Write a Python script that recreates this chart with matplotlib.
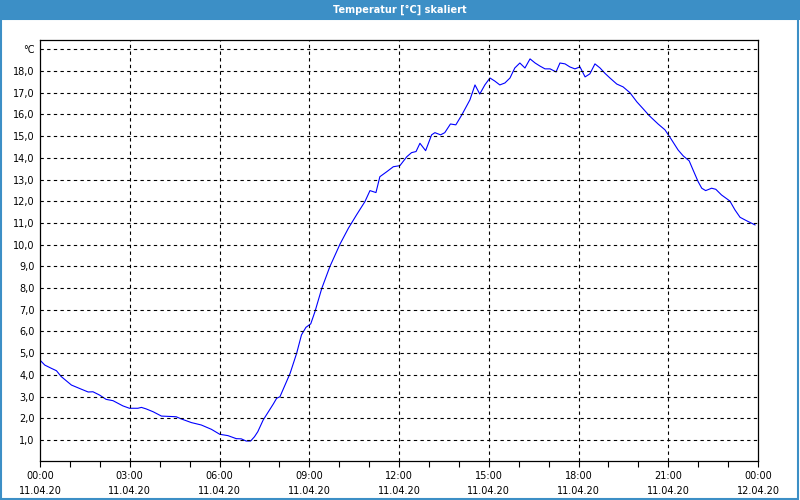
import matplotlib
matplotlib.use("Agg")
import matplotlib.pyplot as plt
from matplotlib.patches import Rectangle

# Temperature readings, hours since 11.04.20 00:00
hours = [0.02, 0.16, 0.38, 0.55, 0.71, 1.05, 1.38, 1.61, 1.77, 1.99, 2.21, 2.44,
         2.77, 2.99, 3.27, 3.39, 3.55, 3.78, 4.06, 4.55, 4.72, 5.06, 5.39, 5.73,
         6.01, 6.28, 6.56, 6.73, 6.89, 7.04, 7.17, 7.28, 7.46, 7.80, 7.91, 8.02,
         8.36, 8.58, 8.74, 8.89, 9.05, 9.19, 9.42, 9.69, 10.03, 10.31, 10.58,
         10.86, 11.03, 11.23, 11.36, 11.59, 11.81, 12.03, 12.26, 12.42, 12.57,
         12.70, 12.89, 13.09, 13.20, 13.39, 13.53, 13.72, 13.90, 14.10, 14.37,
         14.54, 14.70, 14.87, 15.04, 15.20, 15.37, 15.54, 15.71, 15.87, 16.04,
         16.21, 16.38, 16.55, 16.71, 16.88, 17.05, 17.25, 17.38, 17.55, 17.71,
         17.88, 18.05, 18.22, 18.38, 18.55, 18.72, 18.88, 19.05, 19.28, 19.49,
         19.72, 19.95, 20.20, 20.36, 20.66, 20.89, 21.08, 21.33, 21.50, 21.70,
         21.83, 22.00, 22.12, 22.25, 22.45, 22.59, 22.78, 23.06, 23.23, 23.40,
         23.62, 23.90]
temps = [4.65, 4.45, 4.30, 4.19, 3.92, 3.53, 3.34, 3.21, 3.22, 3.07, 2.87, 2.81,
         2.57, 2.46, 2.46, 2.50, 2.43, 2.30, 2.10, 2.07, 1.97, 1.80, 1.69, 1.49,
         1.26, 1.20, 1.06, 1.05, 0.95, 0.95, 1.15, 1.38, 1.92, 2.66, 2.92, 2.99,
         4.07, 5.00, 5.84, 6.19, 6.35, 6.91, 7.99, 8.99, 10.03, 10.76, 11.37,
         11.98, 12.49, 12.40, 13.13, 13.36, 13.59, 13.64, 14.05, 14.24, 14.29,
         14.67, 14.33, 15.06, 15.16, 15.06, 15.16, 15.56, 15.52, 15.98, 16.67,
         17.36, 16.94, 17.36, 17.68, 17.54, 17.36, 17.45, 17.68, 18.14, 18.37,
         18.14, 18.56, 18.37, 18.23, 18.10, 18.10, 17.96, 18.37, 18.33, 18.19,
         18.10, 18.19, 17.73, 17.87, 18.33, 18.14, 17.90, 17.68, 17.40, 17.27,
         17.00, 16.58, 16.20, 15.95, 15.56, 15.29, 14.90, 14.36, 14.09, 13.86,
         13.44, 12.90, 12.60, 12.49, 12.60, 12.55, 12.29, 12.01, 11.60, 11.26,
         11.10, 10.91]

x_ticks = [0, 3, 6, 9, 12, 15, 18, 21, 24]
x_labels = ["00:00\n11.04.20", "03:00\n11.04.20", "06:00\n11.04.20",
            "09:00\n11.04.20", "12:00\n11.04.20", "15:00\n11.04.20",
            "18:00\n11.04.20", "21:00\n11.04.20", "00:00\n12.04.20"]
y_ticks = list(range(1, 20))
y_labels = [f"{v},0" for v in range(1, 19)] + ["°C"]

plt.rcParams['font.family'] = ['DejaVu Sans']
bar_blue = '#3c8fc6'

fig = plt.figure(figsize=(8, 5), dpi=100, facecolor='white')

# title bar and window frame
fig.add_artist(Rectangle((0, 480/500), 1, 20/500, transform=fig.transFigure,
                         facecolor=bar_blue, edgecolor='none'))
fig.add_artist(Rectangle((0.001, 0.002), 0.997, 0.96, transform=fig.transFigure,
                         facecolor='none', edgecolor=bar_blue, linewidth=1.5))
fig.text(0.5, 490/500, "Temperatur [°C] skaliert", color='white',
         fontsize=7, fontweight='bold', ha='center', va='center')

ax = fig.add_axes([40/800, 39/500, 718/800, 421/500])
ax.plot(hours, temps, color='#0000ff', linewidth=0.8)

ax.set_xlim(0, 24)
ax.set_ylim(0.03, 19.43)
ax.set_xticks(x_ticks)
ax.set_xticklabels(x_labels, linespacing=1.65)
ax.set_xticks(range(25), minor=True)
ax.set_yticks(y_ticks)
ax.set_yticklabels(y_labels)

ax.tick_params(axis='x', which='both', direction='out', length=4, width=0.8,
               labelsize=7, pad=3)
ax.tick_params(axis='y', length=0, labelsize=7, pad=4)

for h in x_ticks[1:-1]:
    ax.axvline(h, color='black', linestyle=(0, (3, 3)), linewidth=0.8)
for v in y_ticks:
    ax.axhline(v, color='black', linestyle=(0, (3, 3)), linewidth=0.8)

for s in ax.spines.values():
    s.set_linewidth(0.9)

fig.savefig("out.png", dpi=100, facecolor='white')
